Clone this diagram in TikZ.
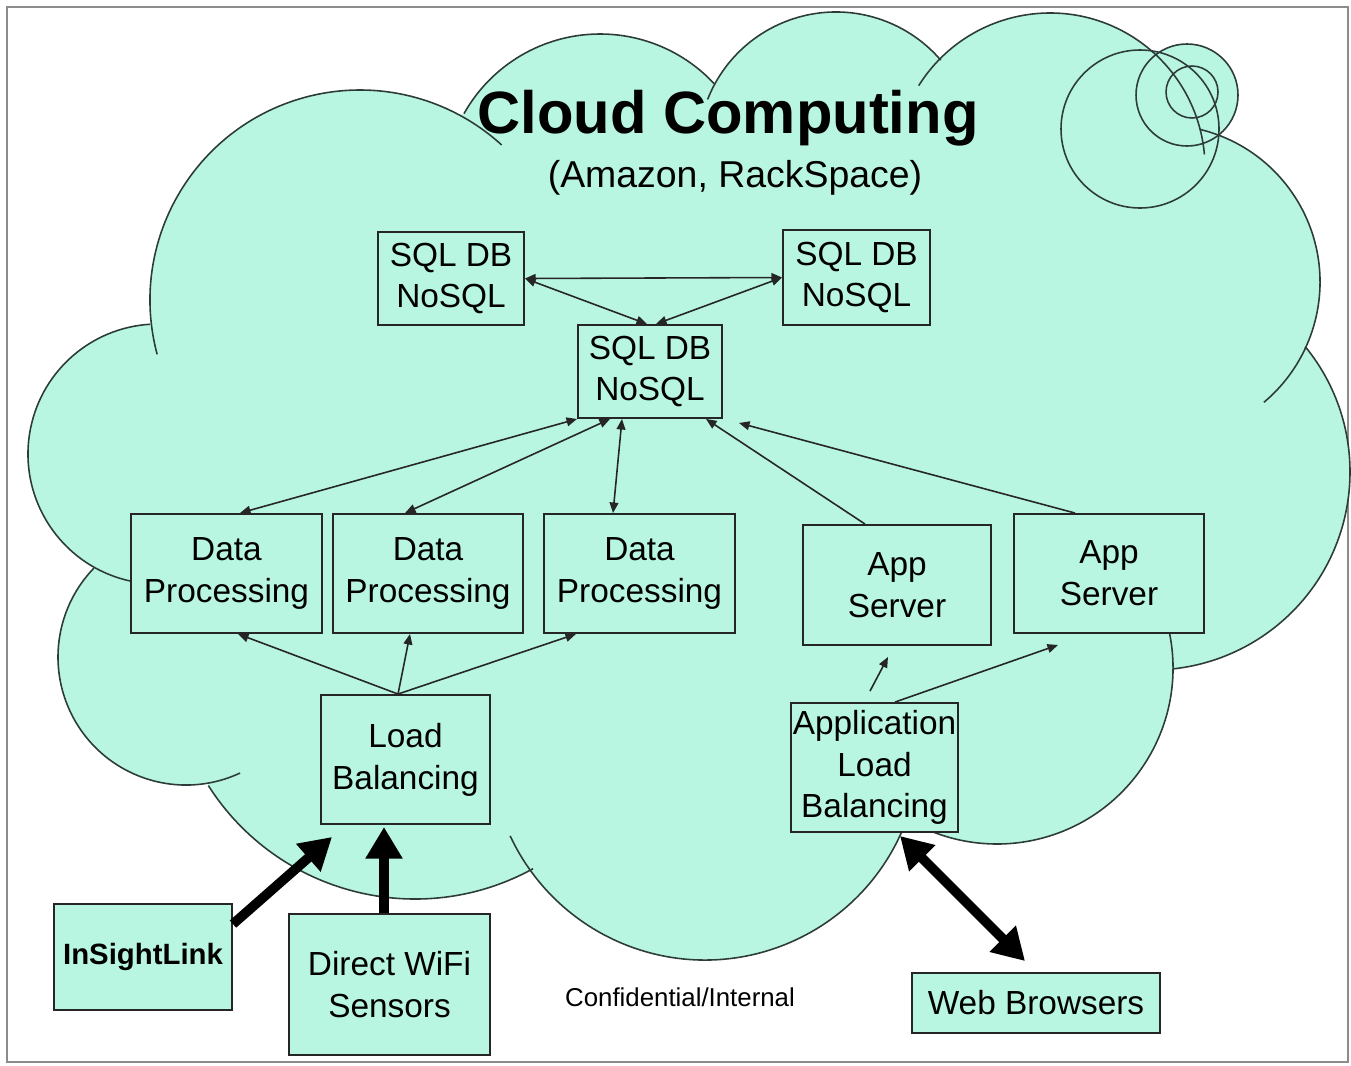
\documentclass[tikz,border=0pt]{standalone}
\usepackage{fontspec}
\setmainfont{Liberation Sans}
\usetikzlibrary{arrows.meta,calc}
\definecolor{mint}{RGB}{184,246,225}
\definecolor{cloudline}{RGB}{45,60,58}
\newcommand{\boxfont}{\fontsize{19}{23.8}\selectfont}
\tikzset{
  box/.style={draw=black!85,line width=1.1pt,fill=mint,inner sep=0pt,align=center,font=\boxfont},
  sz/.style 2 args={minimum width=#1*0.02cm,minimum height=#2*0.02cm},
  thinarr/.style={draw=black!85,line width=0.9pt,-{Triangle[length=6pt,width=5pt]}},
  thinboth/.style={draw=black!85,line width=0.9pt,{Triangle[length=6pt,width=5pt]}-{Triangle[length=6pt,width=5pt]}},
  fatarr/.style={draw=black,line width=5.5pt,-{Triangle[length=18pt,width=20pt]}},
  fatboth/.style={draw=black,line width=5.5pt,{Triangle[length=18pt,width=20pt]}-{Triangle[length=18pt,width=20pt]}},
  cloudstroke/.style={draw=cloudline,line width=0.9pt},
}
\begin{document}
\begin{tikzpicture}[x=0.02cm,y=0.02cm]
\useasboundingbox (0,0) rectangle (1351,-1065);
\draw[black!45,line width=1.2pt] (7,-7) rectangle (1348,-1062);

% cloud fill
\fill[mint] ($(600,-190)+(-209.3:156)$) arc[start angle=-209.3,end angle=-317.1,radius=156]
 -- ($(836,-150)+(-209.5:138)$) arc[start angle=-209.5,end angle=-319.4,radius=138]
 -- ($(1050,-168)+(-224.7:155)$) arc[start angle=-224.7,end angle=-345.1,radius=155]
 -- ($(1163,-282)+(-283.5:157)$) arc[start angle=-283.5,end angle=-383.6,radius=157]
 -- ($(1152,-472)+(-320.7:198)$) arc[start angle=-320.7,end angle=-443.9,radius=198]
 -- ($(997,-668)+(0:176)$) arc[start angle=0,end angle=-120.1,radius=176]
 -- ($(705,-745)+(-20.2:215)$) arc[start angle=-20.2,end angle=-144.2,radius=215]
 -- ($(415,-654)+(-61.2:245)$) arc[start angle=-61.2,end angle=-147.5,radius=245]
 -- ($(186,-657)+(-80.3:128)$) arc[start angle=-80.3,end angle=-224,radius=128]
 -- ($(158,-454)+(-119.3:130)$) arc[start angle=-119.3,end angle=-266.5,radius=130]
 -- ($(360,-300)+(-173.2:210)$) arc[start angle=-173.2,end angle=-298.3,radius=210]
 -- cycle;
% callout bubbles fill
\fill[mint] (1140,-129) circle[radius=79];
\fill[mint] (1187,-95) circle[radius=51];
% cloud outline arcs (with inner tails)
\foreach \cx/\cy/\r/\a/\b in {600/190/156/209.3/317.1, 836/150/138/201.5/319.4,
  1050/168/155/212.1/355, 1163/282/157/283.5/410, 1152/472/198/320.7/443.9,
  997/668/176/-12/120.1, 705/745/215/20.2/155, 415/654/245/61.2/147.5,
  186/657/128/65/224, 158/454/130/102/266.5, 360/300/210/165/312.4}
  \draw[cloudstroke] (\cx,-\cy) ++(-\a:\r) arc[start angle=-\a,end angle=-\b,radius=\r];
\draw[cloudstroke] (1140,-129) circle[radius=79];
\draw[cloudstroke] (1187,-95) circle[radius=51];
\draw[cloudstroke] (1192,-92) circle[radius=26];

% titles
\node[font=\fontsize{34}{40}\selectfont\bfseries,anchor=base] (title) at (728,-133) {Cloud Computing};
\node[font=\fontsize{21.3}{26}\selectfont,anchor=base] (sub) at (735,-187) {(Amazon, RackSpace)};
\node[font=\fontsize{14.7}{18}\selectfont,anchor=base] (conf) at (680,-1006) {Confidential/Internal};

% boxes
\node[box,sz={146}{93}] (sqlL) at (451,-278.5) {SQL DB\\NoSQL};
\node[box,sz={147}{95}] (sqlR) at (856.5,-277.5) {SQL DB\\NoSQL};
\node[box,sz={144}{93}] (sqlC) at (650,-371.5) {SQL DB\\NoSQL};
\node[box,sz={191}{119}] (dp1) at (226.5,-573.5) {Data\\Processing};
\node[box,sz={190}{119}] (dp2) at (428,-573.5) {Data\\Processing};
\node[box,sz={191}{119}] (dp3) at (639.5,-573.5) {Data\\Processing};
\node[box,sz={188}{120}] (app1) at (897,-585) {App\\Server};
\node[box,sz={190}{119}] (app2) at (1109,-573.5) {App\\Server};
\node[box,sz={169}{129}] (lb) at (405.5,-759.5) {Load\\Balancing};
\node[box,sz={167}{129}] (alb) at (874.5,-767.5) {Application\\Load\\Balancing};
\node[box,sz={178}{106},font=\fontsize{16.7}{20}\selectfont\bfseries] (isl) at (143,-957) {InSightLink};
\node[box,sz={201}{141}] (wifi) at (389.5,-984.5) {Direct WiFi\\Sensors};
\node[box,sz={248}{60}] (web) at (1036,-1003) {Web Browsers};

% thin connectors
\draw[thinboth] (sqlL.east) -- (sqlR.west);
\draw[thinboth] (sqlL.east) -- ($(sqlC.north)+(-3,0)$);
\draw[thinboth] (sqlR.west) -- ($(sqlC.north)+(6,0)$);
\draw[thinboth] ($(dp1.north)+(13.5,0)$) -- (sqlC.south west);
\draw[thinboth] ($(dp2.north)+(-23,0)$) -- ($(sqlC.south)+(-40,0)$);
\draw[thinboth] ($(dp3.north)+(-26.5,0)$) -- ($(sqlC.south)+(-28,0)$);
\draw[thinarr] ($(app1.north)+(-32,0)$) -- ($(sqlC.south east)+(-17,0)$);
\draw[thinarr] ($(app2.north)+(-34,0)$) -- ($(sqlC.south east)+(16,-4)$);
\draw[thinarr] ($(lb.north)+(-7.5,0)$) -- ($(dp1.south)+(11.5,0)$);
\draw[thinarr] ($(lb.north)+(-7.5,0)$) -- ($(dp2.south)+(-18,0)$);
\draw[thinarr] ($(lb.north)+(-7.5,0)$) -- ($(dp3.south)+(-63.5,0)$);
\draw[thinarr] ($(alb.north)+(-4.5,11)$) -- ($(app1.south)+(-9,-11)$);
\draw[thinarr] ($(alb.north)+(20.5,0)$) -- ($(app2.south)+(-51,-11)$);
% thick connectors
\draw[fatarr] ($(isl.north east)+(0,-21)$) -- ($(lb.south west)+(12,-12)$);
\draw[fatarr] ($(wifi.north)+(-5.5,0)$) -- ($(lb.south)+(-21.5,-2)$);
\draw[fatboth] ($(alb.south)+(25.5,-3)$) -- ($(web.north)+(-11,11)$);
\end{tikzpicture}
\end{document}
